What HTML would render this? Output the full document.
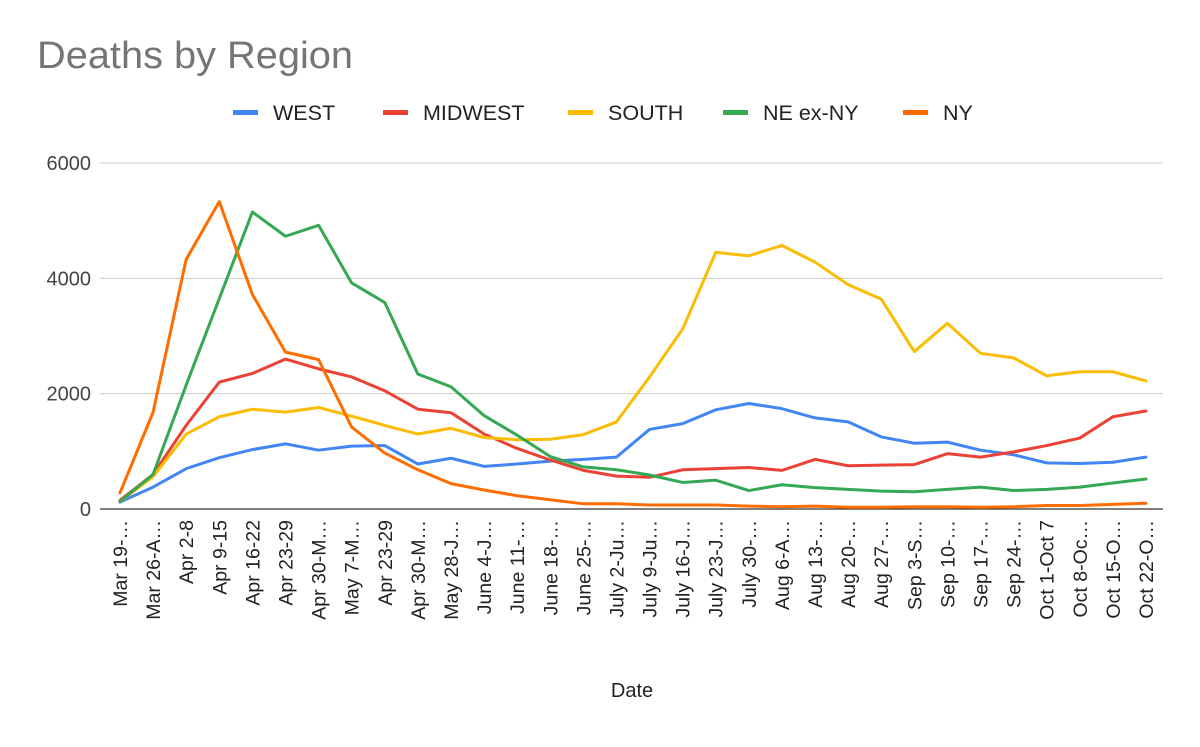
<!DOCTYPE html>
<html><head><meta charset="utf-8"><style>
body{margin:0;background:#fff;font-family:"Liberation Sans",Arial,sans-serif;}
svg text{font-family:"Liberation Sans",Arial,sans-serif;}
</style></head><body>
<svg id="chart" width="1200" height="742" xmlns="http://www.w3.org/2000/svg">
<rect width="1200" height="742" fill="#fff"/>
<text x="37" y="68" font-size="38" fill="#757575" textLength="316" lengthAdjust="spacingAndGlyphs">Deaths by Region</text>
<g id="legend"></g>
<g id="grid"></g>
<g id="yticks"></g>
<g id="xticks"></g>
<g id="lines"></g>
<text x="632" y="697" font-size="20" fill="#222" text-anchor="middle">Date</text>
</svg>
<script>
const categories=["Mar 19-…","Mar 26-A…","Apr 2-8","Apr 9-15","Apr 16-22","Apr 23-29","Apr 30-M…","May 7-M…","Apr 23-29","Apr 30-M…","May 28-J…","June 4-J…","June 11-…","June 18-…","June 25-…","July 2-Ju…","July 9-Ju…","July 16-J…","July 23-J…","July 30-…","Aug 6-A…","Aug 13-…","Aug 20-…","Aug 27-…","Sep 3-S…","Sep 10-…","Sep 17-…","Sep 24-…","Oct 1-Oct 7","Oct 8-Oc…","Oct 15-O…","Oct 22-O…"];
const seriesNames=["WEST","MIDWEST","SOUTH","NE ex-NY","NY"];
const seriesColors=["#4285f4","#ea4335","#fbbc04","#34a853","#ff6d01"];
const west=[120,380,700,890,1030,1130,1020,1090,1100,780,880,740,780,830,860,900,1380,1480,1720,1830,1740,1580,1510,1250,1140,1160,1020,940,800,790,810,900];
const midwest=[150,600,1450,2200,2350,2600,2430,2290,2050,1730,1670,1300,1050,850,670,570,550,680,700,720,670,860,750,760,770,960,900,990,1100,1230,1600,1700];
const south=[130,560,1300,1600,1730,1680,1760,1610,1450,1300,1400,1240,1200,1210,1290,1510,2290,3120,4450,4390,4570,4280,3890,3640,2730,3220,2700,2620,2310,2380,2380,2220];
const neExNy=[130,600,2150,3650,5150,4730,4920,3920,3580,2340,2120,1620,1280,910,730,680,590,460,500,320,420,370,340,310,300,340,380,320,340,380,450,520];
const ny=[280,1680,4330,5330,3720,2720,2590,1420,970,680,440,330,230,160,90,90,70,70,70,50,40,50,30,30,40,40,30,40,60,60,80,100];
const yTicks=[0,2000,4000,6000];
const NS="http://www.w3.org/2000/svg";
const x0=120,x1=1146,yBase=509,yTop=163,yMax=6000;
const xs=i=>x0+i*(x1-x0)/(categories.length-1);
const ys=v=>yBase-v/yMax*(yBase-yTop);
function mk(tag,attrs,parent){const e=document.createElementNS(NS,tag);for(const k in attrs)e.setAttribute(k,attrs[k]);parent.appendChild(e);return e;}
const grid=document.getElementById('grid'),yt=document.getElementById('yticks'),xt=document.getElementById('xticks'),lg=document.getElementById('lines'),leg=document.getElementById('legend');
yTicks.forEach(v=>{
 const l=mk('line',{x1:100,x2:1163,y1:ys(v),y2:ys(v),stroke:v===0?'#333':'#ccc','stroke-width':v===0?1.3:1},grid);
 
 
 const t=mk('text',{x:91,y:ys(v)+7,'font-size':20,fill:'#444','text-anchor':'end'},yt);
 t.textContent=v;
 
 
});
categories.forEach((c,i)=>{
 const x=xs(i)+7;
 const t=mk('text',{x:x,y:520,'font-size':19.5,fill:'#222','text-anchor':'end',transform:`rotate(-90 ${x} 520)`},xt);
 t.textContent=c;
 
 
});
const allData=[west,midwest,south,neExNy,ny];
allData.forEach((d,s)=>{
 const p=mk('polyline',{points:d.map((v,i)=>xs(i)+','+ys(v)).join(' '),fill:'none',stroke:seriesColors[s],'stroke-width':3,'stroke-linejoin':'round','stroke-linecap':'round'},lg);
 
 
});
const legX=[233,383,568,723,903];
seriesNames.forEach((n,s)=>{
 const g=mk('g',{},leg);
 
 
 mk('rect',{x:legX[s],y:110,width:25,height:5,fill:seriesColors[s]},g);
 const t=mk('text',{x:legX[s]+40,y:120,'font-size':21.5,fill:'#222'},g);
 t.textContent=n;
});
</script>
</body></html>
